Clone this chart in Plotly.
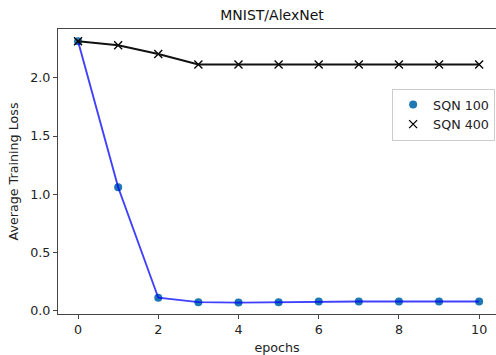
import plotly.graph_objects as go

epochs = [0, 1, 2, 3, 4, 5, 6, 7, 8, 9, 10]
sqn100 = [2.315, 1.06, 0.11, 0.072, 0.068, 0.072, 0.078, 0.078, 0.078, 0.078, 0.078]
sqn400 = [2.315, 2.28, 2.205, 2.115, 2.115, 2.115, 2.115, 2.115, 2.115, 2.115, 2.115]
x_ticks = [0, 2, 4, 6, 8, 10]
y_ticks = [0.0, 0.5, 1.0, 1.5, 2.0]
y_tick_text = ["0.0", "0.5", "1.0", "1.5", "2.0"]

FONT = "DejaVu Sans"
fig = go.Figure()
fig.add_trace(go.Scatter(x=epochs, y=sqn100, mode="markers", name="SQN 100",
                         marker=dict(color="#1f77b4", size=8)))
fig.add_trace(go.Scatter(x=epochs, y=sqn100, mode="lines", showlegend=False,
                         line=dict(color="rgba(0,0,255,0.75)", width=1.9)))
fig.add_trace(go.Scatter(x=epochs, y=sqn400, mode="markers", name="SQN 400",
                         marker=dict(color="black", size=8, symbol="x-thin",
                                     line=dict(color="black", width=1.3))))
fig.add_trace(go.Scatter(x=epochs, y=sqn400, mode="lines", showlegend=False,
                         line=dict(color="#111", width=1.9)))

fig.update_layout(
    width=496, height=355,
    margin=dict(l=58, r=0, t=29, b=41),
    plot_bgcolor="white", paper_bgcolor="white",
    font=dict(family=FONT, size=12.7, color="#222"),
    title=dict(text="MNIST/AlexNet", x=272 / 496, xanchor="center",
               y=1 - 15.5 / 355, yanchor="middle", font=dict(size=14, color="#111")),
    showlegend=True,
    legend=dict(x=0.998, xanchor="right", y=0.79, yanchor="top",
                bgcolor="white", bordercolor="#cccccc", borderwidth=1,
                font=dict(size=12.7, color="#222")),
    xaxis=dict(range=[-0.5, 10.42], tickmode="array", tickvals=x_ticks,
               showgrid=False, zeroline=False, showline=True, mirror=True,
               linecolor="#444", linewidth=1, ticks="outside", ticklen=4,
               tickcolor="#444",
               title=dict(text="epochs", standoff=9, font=dict(size=12.7))),
    yaxis=dict(range=[-0.03, 2.42], tickmode="array", tickvals=y_ticks,
               ticktext=y_tick_text,
               showgrid=False, zeroline=False, showline=True, mirror=False,
               linecolor="#444", linewidth=1, ticks="outside", ticklen=4,
               tickcolor="#444",
               title=dict(text="Average Training Loss", standoff=8,
                          font=dict(size=12.7))),
)
fig.write_html("out.html")
